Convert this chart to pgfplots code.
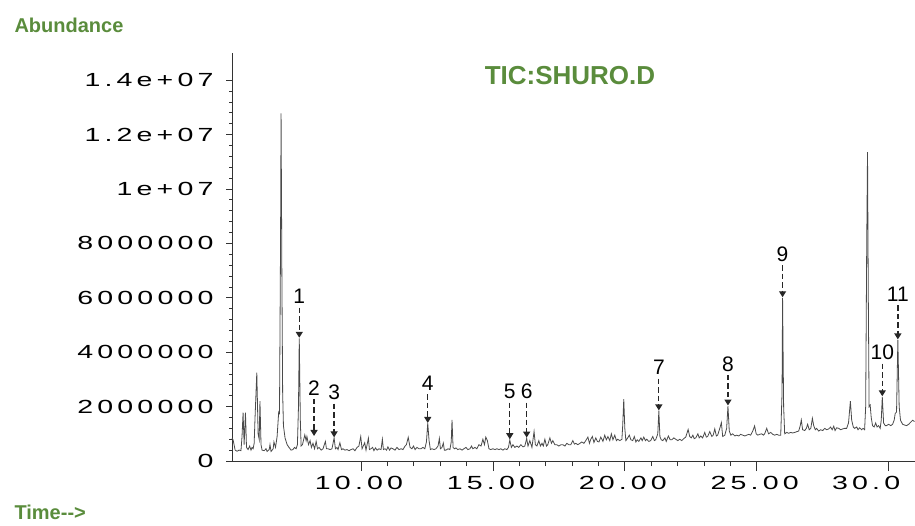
\documentclass[border=0pt]{standalone}
\usepackage{fontspec}
\setmainfont{Liberation Sans}
\newfontfamily\tickfont{Liberation Sans}[FakeStretch=1.5, LetterSpace=22]
\usepackage{pgfplots}
\pgfplotsset{compat=1.18}
\usetikzlibrary{arrows.meta}
\definecolor{hpgreen}{HTML}{5A8C3C}
\definecolor{trace}{HTML}{4A4A4A}

% peak marker: time, tip value, label value, text
\newcommand\pk[4]{%
  \node[font=\fontsize{21}{21}\selectfont] at (axis cs:#1,#3) {#4};
  \draw[black!85, line width=1.3pt, dash pattern=on 5.5pt off 3pt,
        -{Triangle[width=7pt,length=6pt]}]
       ([yshift=-11pt]axis cs:#1,#3) -- (axis cs:#1,#2);
}

\pgfplotsset{chrom/.style={
    at={(232pt,64pt)}, anchor=south west,
    scale only axis, width=683pt, height=408pt,
    xmin=5.11, xmax=31.0, ymin=0, ymax=15,
    axis line style={black!80, line width=1pt},
    tick align=outside,
    tick style={black!80, line width=0.8pt},
    tick label style={font=\fontsize{19}{19}\selectfont\tickfont},
    clip=false,
}}

\begin{document}
\begin{tikzpicture}
\useasboundingbox (0,0) rectangle (915pt,525pt);

\node[anchor=base west, text=hpgreen, font=\fontsize{20}{20}\selectfont\bfseries] at (11pt,492pt) {Abundance};
\node[anchor=base west, text=hpgreen, font=\fontsize{20}{20}\selectfont\bfseries] at (11pt,6pt) {Time-{}->};
\node[anchor=base, text=hpgreen, font=\fontsize{26}{26}\selectfont\bfseries] at (570pt,440pt) {TIC:SHURO.D};

% x axis: longer ticks
\begin{axis}[chrom,
    axis x line*=bottom, hide y axis,
    major tick length=10pt, minor tick length=5pt,
    xtick={10,15,20,25},
    xticklabels={10.00,15.00,20.00,25.00},
    extra x ticks={30},
    extra x tick labels={30.0},
    extra x tick style={xticklabel style={anchor=north west, xshift=-58pt}},
    minor x tick num=4,
    xticklabel style={yshift=-2pt, xshift=-2pt},
]
\addplot[draw=none] coordinates {(10,0)};
\end{axis}

% y axis and trace
\begin{axis}[chrom,
    axis y line*=left, hide x axis,
    major tick length=6pt, minor tick length=3pt,
    ytick={0,2,...,14},
    yticklabels={0,2000000,4000000,6000000,8000000,1e+07,1.2e+07,1.4e+07},
    minor y tick num=4,
    yticklabel style={xshift=-9pt},
]
\addplot[trace, line width=0.8pt] table {
t a
5.11 0.85
5.15 0.78
5.23 0.40
5.30 0.36
5.38 0.40
5.45 0.38
5.49 0.90
5.53 1.78
5.57 0.60
5.62 1.78
5.66 0.50
5.72 0.42
5.78 0.55
5.83 0.40
5.87 0.50
5.91 0.45
5.95 0.65
5.98 1.50
6.05 3.25
6.10 1.00
6.14 0.80
6.17 2.20
6.21 0.60
6.25 0.40
6.33 0.38
6.40 0.45
6.44 0.35
6.52 0.42
6.55 0.60
6.59 0.35
6.67 0.45
6.70 0.70
6.76 0.50
6.82 0.90
6.88 1.80
6.91 1.75
6.95 8.00
6.97 12.78
7.00 7.00
7.03 2.50
7.06 1.30
7.12 0.85
7.20 0.60
7.27 0.50
7.35 0.40
7.42 0.42
7.48 0.50
7.54 0.45
7.59 0.60
7.63 2.00
7.66 4.51
7.70 1.50
7.73 0.55
7.78 0.60
7.87 0.96
7.92 0.75
7.95 0.90
8.01 0.60
8.07 0.75
8.12 0.50
8.18 0.65
8.24 0.45
8.30 0.72
8.35 0.45
8.41 0.50
8.49 0.40
8.56 0.45
8.65 0.72
8.69 0.45
8.75 0.45
8.83 0.42
8.90 0.45
8.98 0.85
9.03 0.45
9.09 0.50
9.13 0.42
9.20 0.67
9.26 0.42
9.32 0.45
9.39 0.40
9.47 0.42
9.55 0.38
9.62 0.42
9.70 0.45
9.77 0.38
9.85 0.50
9.92 0.55
9.99 0.90
10.04 0.45
10.14 0.67
10.19 0.40
10.28 0.84
10.32 0.42
10.38 0.45
10.44 0.50
10.49 0.38
10.55 0.48
10.61 0.40
10.68 0.45
10.76 0.42
10.81 0.80
10.85 0.42
10.91 0.45
10.97 0.40
11.02 0.52
11.08 0.40
11.14 0.48
11.21 0.45
11.29 0.40
11.36 0.50
11.44 0.42
11.52 0.45
11.59 0.42
11.67 0.55
11.72 0.60
11.79 0.87
11.86 0.50
11.93 0.45
11.99 0.55
12.05 0.42
12.12 0.50
12.20 0.45
12.27 0.45
12.35 0.50
12.42 0.45
12.48 0.70
12.53 1.39
12.58 0.75
12.63 0.42
12.69 0.45
12.77 0.42
12.84 0.45
12.92 0.55
12.97 0.83
13.01 0.45
13.07 0.50
13.12 0.66
13.16 0.40
13.22 0.40
13.30 0.45
13.37 0.42
13.42 0.70
13.45 1.51
13.49 0.50
13.54 0.45
13.60 0.48
13.67 0.42
13.75 0.45
13.83 0.40
13.90 0.45
13.98 0.50
14.05 0.42
14.13 0.45
14.19 0.55
14.24 0.45
14.32 0.50
14.39 0.45
14.47 0.60
14.55 0.55
14.62 0.80
14.68 0.60
14.73 0.88
14.79 0.75
14.85 0.45
14.92 0.42
15.00 0.45
15.08 0.42
15.15 0.45
15.23 0.42
15.30 0.45
15.38 0.40
15.45 0.45
15.53 0.42
15.59 0.50
15.64 0.77
15.70 0.50
15.76 0.60
15.83 0.50
15.91 0.55
15.98 0.50
16.06 0.60
16.14 0.52
16.21 0.55
16.28 0.83
16.33 0.55
16.40 0.75
16.48 0.50
16.56 1.08
16.61 0.60
16.67 0.55
16.74 0.75
16.80 0.55
16.86 0.65
16.91 0.55
16.97 0.80
17.03 0.55
17.08 0.60
17.16 0.85
17.22 0.65
17.27 0.75
17.35 0.60
17.42 0.60
17.50 0.55
17.58 0.60
17.65 0.60
17.73 0.55
17.80 0.65
17.88 0.60
17.95 0.60
18.03 0.75
18.09 0.62
18.14 0.65
18.22 0.60
18.30 0.65
18.37 0.70
18.45 0.65
18.52 0.75
18.60 0.88
18.66 0.65
18.71 0.80
18.77 0.90
18.83 0.68
18.90 0.85
18.96 0.72
19.02 0.70
19.09 0.88
19.17 0.72
19.24 0.95
19.30 0.78
19.36 0.90
19.43 0.75
19.49 1.00
19.55 0.78
19.62 0.95
19.68 0.75
19.73 0.80
19.81 0.75
19.89 0.80
19.92 1.30
19.96 2.27
20.00 1.20
20.04 0.75
20.11 0.85
20.17 0.95
20.23 0.78
20.30 0.75
20.36 0.90
20.42 0.70
20.47 0.78
20.53 0.72
20.61 0.85
20.66 0.75
20.72 0.88
20.78 0.75
20.83 0.80
20.91 0.72
20.98 0.75
21.06 0.90
21.12 0.75
21.17 0.78
21.25 1.00
21.29 1.85
21.33 0.90
21.38 0.78
21.44 0.75
21.52 0.85
21.57 0.72
21.65 0.92
21.72 0.78
21.78 0.78
21.86 0.85
21.93 0.80
22.01 0.75
22.08 0.80
22.16 0.75
22.23 0.82
22.31 0.88
22.40 1.16
22.46 0.90
22.52 0.85
22.58 0.95
22.63 0.82
22.69 0.85
22.77 1.00
22.82 0.85
22.88 0.92
22.95 0.85
23.03 1.05
23.09 0.88
23.14 0.90
23.22 1.08
23.30 0.90
23.35 0.95
23.41 1.18
23.47 0.92
23.52 0.95
23.60 1.20
23.66 1.41
23.71 0.90
23.79 0.95
23.86 1.20
23.91 2.02
23.96 1.10
24.02 0.95
24.09 1.00
24.17 0.92
24.24 0.95
24.32 0.92
24.39 0.98
24.47 0.95
24.55 0.92
24.62 0.95
24.70 0.98
24.77 0.95
24.85 1.10
24.92 1.29
24.98 1.00
25.04 0.95
25.11 0.98
25.19 1.00
25.25 0.95
25.30 1.00
25.38 1.20
25.45 1.00
25.53 1.05
25.61 0.98
25.68 0.95
25.76 0.98
25.83 0.95
25.91 0.95
25.96 2.50
25.98 6.00
26.02 2.00
26.06 1.00
26.14 1.05
26.21 1.02
26.29 1.05
26.36 1.03
26.44 1.05
26.52 1.08
26.59 1.10
26.65 1.30
26.69 1.51
26.74 1.15
26.82 1.12
26.88 1.20
26.93 1.35
26.99 1.15
27.05 1.20
27.11 1.57
27.16 1.30
27.22 1.15
27.27 1.20
27.35 1.10
27.42 1.15
27.50 1.12
27.58 1.20
27.65 1.15
27.73 1.18
27.80 1.25
27.86 1.15
27.92 1.28
27.97 1.12
28.03 1.22
28.11 1.20
28.18 1.15
28.26 1.18
28.33 1.20
28.41 1.20
28.48 1.40
28.55 2.20
28.60 1.50
28.66 1.25
28.71 1.20
28.79 1.25
28.84 1.15
28.90 1.22
28.98 1.15
29.03 1.20
29.09 1.15
29.13 2.00
29.17 8.00
29.20 11.36
29.23 6.00
29.26 2.00
29.30 2.06
29.34 1.60
29.39 1.30
29.45 1.25
29.51 1.40
29.56 1.25
29.62 1.30
29.68 1.20
29.72 1.50
29.76 2.36
29.81 1.40
29.87 1.30
29.92 1.30
30.00 1.35
30.08 1.30
30.15 1.35
30.21 1.50
30.25 1.75
30.30 1.80
30.35 4.45
30.40 2.00
30.45 1.50
30.53 1.35
30.61 1.32
30.68 1.30
30.76 1.35
30.83 1.42
30.91 1.50
30.98 1.45
};
\pk{7.66}{4.53}{6.04}{1}
\pk{8.22}{0.92}{2.69}{2}
\pk{8.98}{0.87}{2.51}{3}
\pk{12.53}{1.40}{2.86}{4}
\pk{15.64}{0.80}{2.55}{5}
\pk{16.28}{0.86}{2.55}{6}
\pk{21.29}{1.86}{3.43}{7}
\pk{23.91}{2.04}{3.57}{8}
\pk{25.98}{6.02}{7.61}{9}
\pk{29.76}{2.38}{3.98}{10}
\pk{30.35}{4.47}{6.13}{11}
\end{axis}
\end{tikzpicture}
\end{document}
